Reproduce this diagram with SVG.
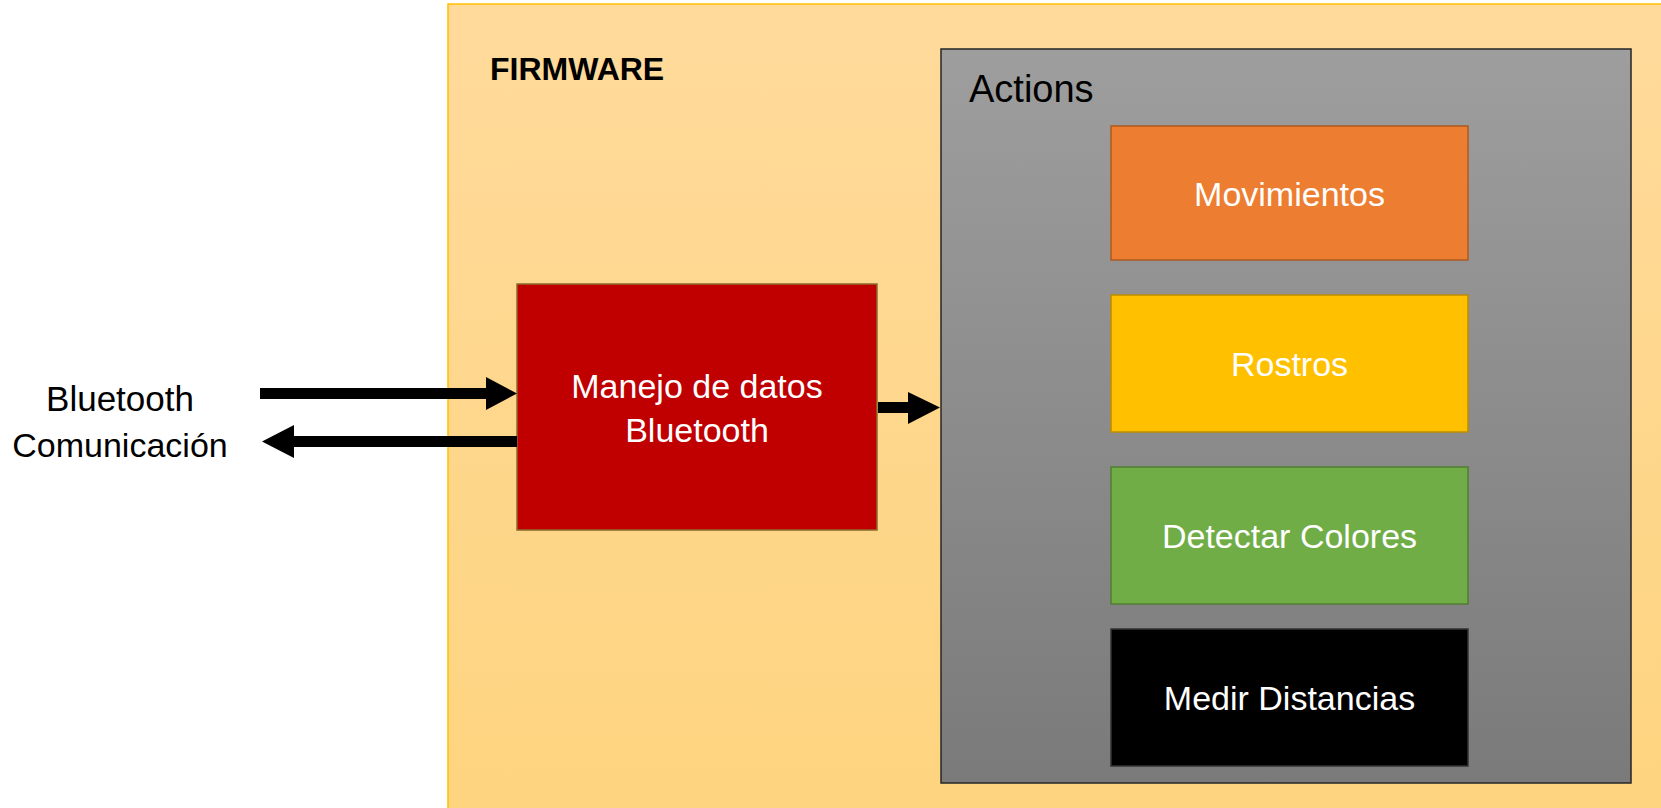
<svg xmlns="http://www.w3.org/2000/svg" width="1661" height="808" viewBox="0 0 1661 808">
<style>
.lbl{font-family:"Liberation Sans",Arial,sans-serif;fill:#fff;font-size:34px;text-anchor:middle}
.blk{font-family:"Liberation Sans",Arial,sans-serif;fill:#000}
.arrow{fill:#000}
</style>
<defs>
<linearGradient id="gFw" x1="0" y1="0" x2="0" y2="1">
<stop offset="0" stop-color="#FFDA9B"/>
<stop offset="1" stop-color="#FED47F"/>
</linearGradient>
<linearGradient id="gAct" x1="0" y1="0" x2="0" y2="1">
<stop offset="0" stop-color="#9E9E9E"/>
<stop offset="1" stop-color="#7A7A7A"/>
</linearGradient>
</defs>
<rect x="0" y="0" width="1661" height="808" fill="#fff"/>
<g id="firmware">
<rect x="448" y="4" width="1220" height="812" fill="url(#gFw)" stroke="#FFC000" stroke-width="1.5"/>
<text class="blk" x="490" y="80" font-size="32" font-weight="bold">FIRMWARE</text>
</g>
<g id="actions">
<rect x="941" y="49" width="690" height="734" fill="url(#gAct)" stroke="#262626" stroke-width="1.5"/>
<text class="blk" x="969" y="102" font-size="38">Actions</text>
</g>
<g id="movimientos">
<rect x="1111" y="126" width="357" height="134" fill="#ED7D31" stroke="#AE5A21" stroke-width="1.5"/>
<text class="lbl" x="1289.5" y="206">Movimientos</text>
</g>
<g id="rostros">
<rect x="1111" y="295" width="357" height="137" fill="#FFC000" stroke="#BC8C00" stroke-width="1.5"/>
<text class="lbl" x="1289.5" y="376">Rostros</text>
</g>
<g id="detectar">
<rect x="1111" y="467" width="357" height="137" fill="#70AD47" stroke="#507E32" stroke-width="1.5"/>
<text class="lbl" x="1289.5" y="548">Detectar Colores</text>
</g>
<g id="medir">
<rect x="1111" y="629" width="357" height="137" fill="#000" stroke="#333" stroke-width="1.5"/>
<text class="lbl" x="1289.5" y="710">Medir Distancias</text>
</g>
<g id="manejo">
<rect x="517" y="284" width="360" height="246" fill="#C00000" stroke="#8C6A2A" stroke-width="1.5"/>
<text class="lbl" x="697" y="398">Manejo de datos</text>
<text class="lbl" x="697" y="442">Bluetooth</text>
</g>
<g id="bluetooth">
<text class="blk" x="120" y="411" font-size="35" text-anchor="middle">Bluetooth</text>
<text class="blk" x="120" y="457" font-size="34" text-anchor="middle">Comunicación</text>
</g>
<g id="connectors">
<polygon class="arrow" points="260,388 486,388 486,377 517,393.5 486,410 486,399 260,399"/>
<polygon class="arrow" points="517,436 294,436 294,425 262,441.5 294,458 294,447 517,447"/>
<polygon class="arrow" points="878,402 908,402 908,392 940,407.5 908,424 908,413 878,413"/>
</g>
</svg>
